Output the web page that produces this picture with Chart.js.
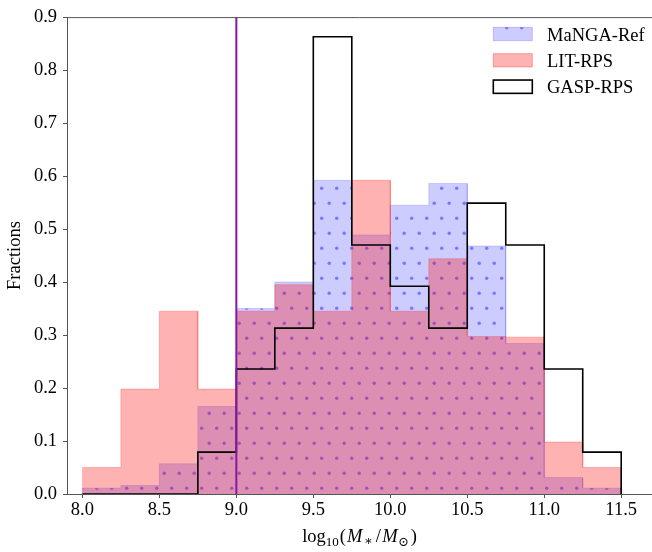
<!DOCTYPE html>
<html><head><meta charset="utf-8">
<script src="https://cdn.jsdelivr.net/npm/chart.js@4.4.1/dist/chart.umd.min.js"></script>
<style>html,body{margin:0;padding:0;background:#fff;overflow:hidden}#wrap{width:652px;height:552px;position:relative}</style>
</head><body><div id="wrap"><canvas id="c" width="652" height="552"></canvas></div>
<script>
// ---- data ----
const binEdges = [8.0, 8.25, 8.5, 8.75, 9.0, 9.25, 9.5, 9.75, 10.0, 10.25, 10.5, 10.75, 11.0, 11.25, 11.5];
const mangaRef = [0.011, 0.016, 0.057, 0.165, 0.350, 0.400, 0.592, 0.489, 0.545, 0.586, 0.468, 0.284, 0.031, 0.011];
const litRps   = [0.050, 0.198, 0.345, 0.198, 0.345, 0.395, 0.345, 0.592, 0.345, 0.444, 0.297, 0.296, 0.098, 0.050];
const gaspRps  = [0.000, 0.000, 0.000, 0.079, 0.236, 0.313, 0.863, 0.470, 0.392, 0.313, 0.549, 0.470, 0.236, 0.079];
const massCut = 9.0;
const xTicks = [8.0, 8.5, 9.0, 9.5, 10.0, 10.5, 11.0, 11.5];
const yTicks = [0.0, 0.1, 0.2, 0.3, 0.4, 0.5, 0.6, 0.7, 0.8, 0.9];
const seriesLabels = ['MaNGA-Ref', 'LIT-RPS', 'GASP-RPS'];

const SERIF = "'Liberation Serif', 'DejaVu Serif', serif";
const FS = 18.5;
Chart.defaults.font.family = SERIF;
Chart.defaults.font.size = FS;
Chart.defaults.color = '#000';

function histPoints(edges, vals) {
  const pts = [{x: edges[0], y: 0}];
  for (let i = 0; i < vals.length; i++) {
    pts.push({x: edges[i], y: vals[i]});
    pts.push({x: edges[i + 1], y: vals[i]});
  }
  pts.push({x: edges[edges.length - 1], y: 0});
  return pts;
}

const DOT = 'rgba(0,0,255,0.42)';
// dotted hatch pattern for MaNGA-Ref
function makePattern() {
  const t = document.createElement('canvas');
  t.width = 15; t.height = 30;
  const g = t.getContext('2d');
  g.fillStyle = 'rgba(0,0,255,0.2)';
  g.fillRect(0, 0, 15, 30);
  g.fillStyle = DOT;
  const dots = [[6.7, 8.3], [14.2, 23.3]];
  for (const [dx, dy] of dots) {
    for (const ox of [-15, 0, 15]) for (const oy of [-30, 0, 30]) {
      g.beginPath(); g.arc(dx + ox, dy + oy, 1.7, 0, Math.PI * 2); g.fill();
    }
  }
  return document.getElementById('c').getContext('2d').createPattern(t, 'repeat');
}
const hatch = makePattern();

const extras = {
  id: 'extras',
  afterDraw(chart) {
    const ctx = chart.ctx, a = chart.chartArea;
    ctx.save();
    // top spine
    ctx.strokeStyle = '#555'; ctx.lineWidth = 1;
    ctx.beginPath(); ctx.moveTo(a.left, a.top + 0.5); ctx.lineTo(a.right, a.top + 0.5); ctx.stroke();

    // legend
    const bx = 493.3, bw = 39, bh = 13.3, tx = 547;
    const rows = [34, 60.3, 86.7];
    ctx.font = FS + 'px ' + SERIF;
    ctx.textBaseline = 'alphabetic';
    ctx.textAlign = 'left';
    rows.forEach((cy, i) => {
      const y0 = cy - bh / 2;
      if (i === 0) {
        ctx.fillStyle = 'rgba(0,0,255,0.2)';
        ctx.fillRect(bx, y0, bw, bh);
        ctx.save();
        ctx.beginPath(); ctx.rect(bx, y0, bw, bh); ctx.clip();
        ctx.fillStyle = DOT;
        for (const dx of [506.7, 521.7]) { ctx.beginPath(); ctx.arc(dx, y0 + 0.5, 1.7, 0, Math.PI * 2); ctx.fill(); }
        ctx.restore();
        ctx.strokeStyle = 'rgba(0,0,255,0.2)'; ctx.lineWidth = 1;
        ctx.strokeRect(bx, y0, bw, bh);
      } else if (i === 1) {
        ctx.fillStyle = 'rgba(255,0,0,0.3)';
        ctx.fillRect(bx, y0, bw, bh);
        ctx.strokeStyle = 'rgba(255,0,0,0.3)'; ctx.lineWidth = 1;
        ctx.strokeRect(bx, y0, bw, bh);
      } else {
        ctx.fillStyle = '#fff';
        ctx.fillRect(bx, y0, bw, bh);
        ctx.strokeStyle = '#000'; ctx.lineWidth = 1.6;
        ctx.strokeRect(bx, y0, bw, bh);
      }
      ctx.fillStyle = '#000';
      ctx.fillText(seriesLabels[i], tx, cy + 6.7);
    });

    // x axis title: log10(M*/M⊙)
    const big = FS + 'px ' + SERIF, bigI = 'italic ' + FS + 'px ' + SERIF, small = '13px ' + SERIF;
    const parts = [
      ['log', big, 0, 0], ['10', small, 4, 1], ['(', big, 0, 1], ['M', bigI, 0, 1.5],
      ['\u2217', small, 3, 3], ['/', big, 0, 1.5], ['M', bigI, 0, 0.5], ['\u2299', small, 4, 1.5], [')', big, 0, 0]
    ];
    let total = 0;
    for (const p of parts) { ctx.font = p[1]; total += ctx.measureText(p[0]).width + p[3]; }
    let x = (a.left + a.right) / 2 - total / 2;
    const base = 541.5;
    for (const p of parts) {
      ctx.font = p[1];
      ctx.fillText(p[0], x, base + p[2]);
      x += ctx.measureText(p[0]).width + p[3];
    }
    ctx.restore();
  }
};

const tickFont = {family: SERIF, size: FS};

new Chart(document.getElementById('c'), {
  type: 'line',
  data: {
    datasets: [
      {label: 'cut', data: [{x: massCut, y: yTicks[0]}, {x: massCut, y: yTicks[yTicks.length - 1]}],
       borderColor: '#85189f', borderWidth: 2, pointRadius: 0, fill: false},
      {label: seriesLabels[2], data: histPoints(binEdges, gaspRps), borderColor: '#000', borderWidth: 1.6,
       backgroundColor: 'rgba(0,0,0,0)', pointRadius: 0, fill: false},
      {label: seriesLabels[1], data: histPoints(binEdges, litRps), borderColor: 'rgba(255,0,0,0.22)', borderWidth: 1,
       backgroundColor: 'rgba(255,0,0,0.3)', pointRadius: 0, fill: 'origin'},
      {label: seriesLabels[0], data: histPoints(binEdges, mangaRef), borderColor: 'rgba(0,0,255,0.15)', borderWidth: 1,
       backgroundColor: hatch, pointRadius: 0, fill: 'origin'}
    ]
  },
  options: {
    responsive: false, animation: false, devicePixelRatio: 1,
    layout: {padding: {top: 14, left: 0, right: 0, bottom: 0}},
    elements: {line: {tension: 0}},
    plugins: {legend: {display: false}, tooltip: {enabled: false}},
    scales: {
      x: {
        type: 'linear', min: 7.9, max: 11.7,
        afterBuildTicks(s) { s.ticks = xTicks.map(v => ({value: v})); },
        afterFit(s) { s.height = 58; },
        ticks: {callback: v => Number(v).toFixed(1), font: tickFont, color: '#000', padding: 1, maxRotation: 0, autoSkip: false},
        grid: {drawOnChartArea: false, drawTicks: true, tickLength: 4, tickColor: '#555', tickWidth: 1},
        border: {display: true, color: '#555', width: 1}
      },
      y: {
        type: 'linear', min: 0, max: 0.9,
        afterBuildTicks(s) { s.ticks = yTicks.map(v => ({value: v})); },
        afterFit(s) { s.width = 67; },
        ticks: {callback: v => Number(v).toFixed(1), font: tickFont, color: '#000', padding: 6, autoSkip: false},
        grid: {drawOnChartArea: false, drawTicks: true, tickLength: 4, tickColor: '#555', tickWidth: 1},
        border: {display: true, color: '#555', width: 1},
        title: {display: true, text: 'Fractions', font: tickFont, color: '#000'}
      }
    }
  },
  plugins: [extras]
});
</script></body></html>
